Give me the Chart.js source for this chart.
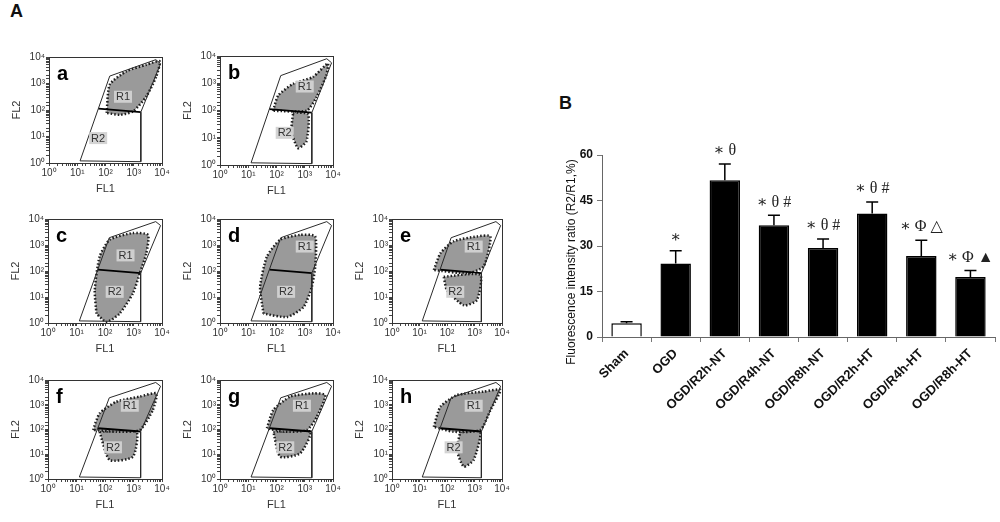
<!doctype html>
<html lang="en">
  <head>
    <meta charset="UTF-8" />
    <title>Flow cytometry and fluorescence ratio</title>
    <script src="https://cdn.jsdelivr.net/npm/chart.js"></script>
    <style>
      body,
      html {
        margin: 0;
        padding: 0;
        width: 1000px;
        height: 522px;
        background: #fff;
        overflow: hidden;
        font-family: "Liberation Sans", Arial, sans-serif;
      }
      .box {
        position: absolute;
      }
      .panel-letter {
        position: absolute;
        font-weight: bold;
        font-size: 18px;
        color: #111;
      }
    </style>
  </head>
  <body>
    <div class="panel-letter" style="left: 10px; top: 1px">A</div>
    <div class="panel-letter" style="left: 559px; top: 93px">B</div>

    <script>
      // ---- panel B data ----
      const categories = [
        "Sham",
        "OGD",
        "OGD/R2h-NT",
        "OGD/R4h-NT",
        "OGD/R8h-NT",
        "OGD/R2h-HT",
        "OGD/R4h-HT",
        "OGD/R8h-HT",
      ];
      const ratioMeans = [4.5, 24.2, 51.7, 36.8, 29.3, 40.7, 26.7, 19.8];
      const ratioErrors = [0.5, 4.2, 5.3, 3.3, 3.0, 3.8, 5.2, 2.1];
      const sigMarks = ["", "∗", "∗ θ", "∗ θ #", "∗ θ #", "∗ θ #", "∗ Φ △", "∗ Φ ▲"];
      const ratioTicks = [0, 15, 30, 45, 60];
      const ratioTitle = "Fluorescence intensity ratio (R2/R1,%)";

      // ---- panel A data (log decades, 0..4) ----
      const plotLetters = ["a", "b", "c", "d", "e", "f", "g", "h"];
      const flowTickLabels = ["10⁰", "10¹", "10²", "10³", "10⁴"];
      const gateX = [1.1, 2.15, 3.78, 3.95, 3.25, 3.25, 1.1];
      const gateY = [0.08, 3.28, 3.9, 3.75, 1.92, 0.05, 0.08];
      const splitX = [1.75, 3.25];
      const splitY = [2.05, 1.92];
      const r1Labels = [[2.62, 2.5], [3.0, 2.88], [2.72, 2.6], [3.0, 2.94], [2.97, 2.94], [2.87, 2.96], [2.9, 2.96], [2.97, 2.96]];
      const r2Labels = [[1.74, 0.94], [2.29, 1.18], [2.34, 1.2], [2.34, 1.2], [2.3, 1.2], [2.28, 1.28], [2.31, 1.28], [2.24, 1.28]];

      // dense cell clouds, one list of outlines per plot
      const cloudA = [
        [[2.04, 1.89], [2.15, 2.96], [2.74, 3.46], [3.45, 3.71], [3.92, 3.84], [3.8, 3.27], [3.45, 2.52], [2.98, 1.95], [2.5, 1.82]],
      ];
      const cloudB = [
        [[1.88, 1.99], [2.06, 2.55], [2.59, 2.98], [3.29, 3.23], [3.82, 3.73], [3.76, 3.29], [3.41, 2.48], [3.06, 1.99]],
        [[2.59, 1.93], [3.12, 1.86], [3.06, 0.87], [2.76, 0.62], [2.53, 1.24]],
      ];
      const cloudC = [
        [[1.7, 0.36], [1.64, 1.26], [1.81, 2.55], [2.16, 3.2], [2.98, 3.46], [3.51, 3.39], [3.45, 2.68], [3.22, 1.91], [2.98, 1.14], [2.51, 0.36], [2.05, 0.04]],
      ];
      const cloudD = [
        [[1.54, 0.36], [1.42, 1.39], [1.66, 2.55], [2.13, 3.2], [2.84, 3.39], [3.37, 3.33], [3.37, 2.17], [3.25, 1.39], [2.96, 0.62], [2.37, 0.23]],
      ];
      const cloudE = [
        [[1.52, 2.04], [1.76, 2.68], [2.24, 3.14], [3.09, 3.33], [3.58, 3.33], [3.33, 2.17], [2.73, 1.91]],
        [[1.88, 1.78], [3.21, 1.85], [3.09, 0.88], [2.61, 0.68], [2.0, 1.26]],
      ];
      const cloudF = [
        [[1.58, 1.98], [1.81, 2.65], [2.4, 3.12], [3.22, 3.33], [3.8, 3.46], [3.68, 2.79], [3.22, 1.98], [2.4, 1.91]],
        [[1.81, 1.91], [3.1, 1.91], [2.98, 0.9], [2.16, 0.77]],
      ];
      const cloudG = [
        [[1.66, 2.05], [1.89, 2.79], [2.49, 3.33], [3.31, 3.46], [3.73, 3.39], [3.43, 2.52], [3.08, 1.98], [2.25, 1.91]],
        [[1.89, 1.91], [3.2, 1.91], [2.84, 1.04], [2.13, 0.9]],
      ];
      const cloudH = [
        [[1.52, 2.11], [1.76, 2.92], [2.36, 3.39], [3.33, 3.53], [3.94, 3.6], [3.58, 2.79], [3.21, 1.98], [2.24, 1.91]],
        [[2.48, 1.91], [3.21, 1.91], [2.97, 0.77], [2.61, 0.5], [2.36, 1.17]],
      ];
      const clouds = [cloudA, cloudB, cloudC, cloudD, cloudE, cloudF, cloudG, cloudH];

      // frame (plot area) of each small plot: left, top, width, height
      const frames = [
        [49, 57, 113, 106],
        [220, 56, 113, 109],
        [48, 219, 114, 104],
        [220, 219, 113, 104],
        [392, 219, 110, 104],
        [48, 380, 114, 99],
        [220, 380, 113, 99],
        [392, 380, 110, 99],
      ];

      const FONT = "'Liberation Sans', Arial, sans-serif";
      const toPoint = (x, y) => ({ x: Math.pow(10, x), y: Math.pow(10, y) });

      function addBox(left, top, width, height) {
        const div = document.createElement("div");
        div.className = "box";
        div.style.left = left + "px";
        div.style.top = top + "px";
        div.style.width = width + "px";
        div.style.height = height + "px";
        const canvas = document.createElement("canvas");
        div.appendChild(canvas);
        document.body.appendChild(div);
        return canvas;
      }

      // frame, letter and R1/R2 boxes on each small plot
      const flowDecor = {
        id: "flowDecor",
        afterDraw(chart, args, opts) {
          const { ctx, chartArea: a, scales } = chart;
          ctx.save();
          ctx.strokeStyle = "#333";
          ctx.lineWidth = 1;
          ctx.strokeRect(a.left + 0.5, a.top + 0.5, a.right - a.left, a.bottom - a.top);

          ctx.fillStyle = "#000";
          ctx.font = "bold 20px " + FONT;
          ctx.textBaseline = "alphabetic";
          ctx.textAlign = "left";
          ctx.fillText(opts.letter, a.left + 8, a.top + 23);

          ctx.font = "11px " + FONT;
          ctx.textAlign = "center";
          ctx.textBaseline = "middle";
          [["R1", opts.r1], ["R2", opts.r2]].forEach(([txt, p]) => {
            const px = scales.x.getPixelForValue(Math.pow(10, p[0]));
            const py = scales.y.getPixelForValue(Math.pow(10, p[1]));
            ctx.fillStyle = "rgba(210,210,210,0.95)";
            ctx.fillRect(px - 9, py - 6, 18, 12);
            ctx.fillStyle = "#333";
            ctx.fillText(txt, px, py + 0.5);
          });
          ctx.restore();
        },
      };

      function logAxis(title, isX) {
        return {
          type: "logarithmic",
          min: 1,
          max: 10000,
          afterFit: (s) => {
            if (isX) s.height = 34;
            else s.width = 40;
          },
          ticks: {
            autoSkip: false,
            maxRotation: 0,
            padding: 1,
            color: "#333",
            font: { family: FONT, size: 10 },
            callback: (v) => {
              const l = Math.log10(v);
              const r = Math.round(l);
              return Math.abs(l - r) < 1e-6 ? flowTickLabels[r] : "";
            },
          },
          grid: { drawOnChartArea: false, tickLength: 3, color: "#444" },
          border: { display: true, color: "#333" },
          title: {
            display: true,
            text: title,
            color: "#333",
            font: { family: FONT, size: 11 },
            padding: { top: 1, bottom: 1 },
          },
        };
      }

      function flowChart(i) {
        const [fx, fy, fw, fh] = frames[i];
        const padT = 12;
        const padR = 14;
        const canvas = addBox(fx - 40, fy - padT, fw + 40 + padR, fh + padT + 34);

        const datasets = [
          {
            data: gateX.map((x, k) => toPoint(x, gateY[k])),
            borderColor: "#2a2a2a",
            borderWidth: 1,
            pointRadius: 0,
            fill: false,
            tension: 0,
            order: 0,
          },
          {
            data: splitX.map((x, k) => toPoint(x, splitY[k])),
            borderColor: "#000",
            borderWidth: 1.8,
            pointRadius: 0,
            fill: false,
            tension: 0,
            order: 0,
          },
        ];
        clouds[i].forEach((poly) => {
          const pts = poly.map((p) => toPoint(p[0], p[1]));
          pts.push(pts[0]);
          datasets.push({
            data: pts,
            borderColor: "#1c1c1c",
            borderWidth: 2.5,
            borderDash: [1.5, 2],
            backgroundColor: "#9a9a9a",
            pointRadius: 0,
            fill: "shape",
            tension: 0.2,
            order: 5,
          });
        });

        new Chart(canvas, {
          type: "line",
          data: { datasets },
          options: {
            responsive: true,
            maintainAspectRatio: false,
            animation: false,
            layout: { padding: { top: padT, right: padR, left: 0, bottom: 0 } },
            plugins: {
              legend: { display: false },
              tooltip: { enabled: false },
              flowDecor: { letter: plotLetters[i], r1: r1Labels[i], r2: r2Labels[i] },
            },
            scales: { x: logAxis("FL1", true), y: logAxis("FL2", false) },
          },
          plugins: [flowDecor],
        });
      }

      plotLetters.forEach((_, i) => flowChart(i));

      // ---- panel B ----
      const errorBars = {
        id: "errorBars",
        afterDatasetsDraw(chart) {
          const { ctx, scales, chartArea } = chart;
          const meta = chart.getDatasetMeta(0);
          ctx.save();
          ctx.strokeStyle = "#000";
          ctx.lineWidth = 1.5;
          meta.data.forEach((bar, i) => {
            const top = scales.y.getPixelForValue(ratioMeans[i] + ratioErrors[i]);
            ctx.beginPath();
            ctx.moveTo(bar.x, bar.y);
            ctx.lineTo(bar.x, top);
            ctx.moveTo(bar.x - 6, top);
            ctx.lineTo(bar.x + 6, top);
            ctx.stroke();

            ctx.fillStyle = "#222";
            ctx.font = "16px 'Liberation Serif', 'DejaVu Serif', serif";
            ctx.textAlign = "center";
            ctx.textBaseline = "bottom";
            ctx.fillText(sigMarks[i], bar.x, top - 5);
          });

          // y axis title, placed a little below the axis centre as in the figure
          ctx.translate(chartArea.left - 30, (chartArea.top + chartArea.bottom) / 2 + 16);
          ctx.rotate(-Math.PI / 2);
          ctx.fillStyle = "#111";
          ctx.font = "12px " + FONT;
          ctx.textAlign = "center";
          ctx.textBaseline = "middle";
          ctx.fillText(ratioTitle, 0, 0);
          ctx.restore();
        },
      };

      const barCanvas = addBox(540, 90, 460, 370);
      new Chart(barCanvas, {
        type: "bar",
        data: {
          labels: categories,
          datasets: [
            {
              data: ratioMeans,
              backgroundColor: ratioMeans.map((_, i) => (i === 0 ? "#fff" : "#000")),
              borderColor: "#000",
              borderWidth: 1.5,
              barPercentage: 0.62,
              categoryPercentage: 1,
            },
          ],
        },
        options: {
          responsive: true,
          maintainAspectRatio: false,
          animation: false,
          layout: { padding: { top: 65, right: 5, left: 0, bottom: 0 } },
          plugins: { legend: { display: false }, tooltip: { enabled: false } },
          scales: {
            y: {
              min: 0,
              max: 60,
              afterFit: (s) => (s.width = 62),
              afterBuildTicks: (s) => (s.ticks = ratioTicks.map((v) => ({ value: v }))),
              ticks: {
                color: "#111",
                padding: 4,
                font: { family: FONT, size: 12, weight: "bold" },
              },
              grid: { drawOnChartArea: false, tickLength: 5, color: "#777" },
              border: { color: "#666", width: 1 },
            },
            x: {
              afterFit: (s) => (s.height = 123),
              ticks: {
                color: "#111",
                maxRotation: 45,
                minRotation: 45,
                padding: 4,
                font: { family: FONT, size: 13, weight: "bold" },
              },
              grid: { drawOnChartArea: false, offset: true, tickLength: 5, color: "#777" },
              border: { color: "#666", width: 1 },
            },
          },
        },
        plugins: [errorBars],
      });
    </script>
  </body>
</html>
